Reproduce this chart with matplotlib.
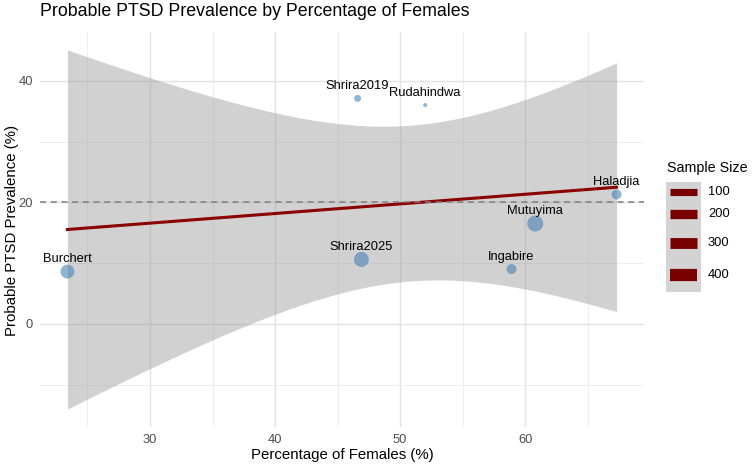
# PTSD prevalence vs share of female participants, with a linear fit and 95% band.

import numpy as np
import matplotlib.pyplot as plt
from matplotlib.patches import Rectangle
from matplotlib.lines import Line2D

plt.rcParams['font.family'] = ['Liberation Sans', 'DejaVu Sans']

# Data
studies = ['Burchert', 'Shrira2019', 'Rudahindwa', 'Shrira2025',
           'Mutuyima', 'Ingabire', 'Haladjia']
pct_female = [23.4, 46.6, 52.0, 46.9, 60.8, 58.9, 67.3]
ptsd_prev = [8.6, 37.1, 36.0, 10.6, 16.5, 9.0, 21.3]
sample_size = [320, 56, 30, 383, 450, 135, 135]
size_breaks = [100, 200, 300, 400]

W, H = 752, 466
n_min, n_max = min(sample_size), max(sample_size)


def diam_px(n):
    # area scale, like ggplot's scale_size
    t = np.clip((np.asarray(n, float) - n_min) / (n_max - n_min), 0, 1)
    return 4 + 12 * np.sqrt(t)


fig = plt.figure(figsize=(W / 100, H / 100), dpi=100)
ax = fig.add_axes([40 / W, 1 - 427 / H, (644 - 40) / W, (427 - 32) / H])

# Linear model and 95% confidence band
x = np.array(pct_female)
y = np.array(ptsd_prev)
n = len(x)
b, a = np.polyfit(x, y, 1)
xs = np.linspace(x.min(), x.max(), 100)
fit = a + b * xs
resid = y - (a + b * x)
s = np.sqrt(np.sum(resid ** 2) / (n - 2))
se = s * np.sqrt(1 / n + (xs - x.mean()) ** 2 / np.sum((x - x.mean()) ** 2))
t_crit = 2.570582  # t(0.975, df=5)
lo, hi = fit - t_crit * se, fit + t_crit * se

ax.fill_between(xs, lo, hi, color='#999999', alpha=0.45, lw=0, zorder=1)
ax.plot(xs, fit, color='#8B0000', lw=2.2, zorder=2)
ax.axhline(20, color='#7F7F7F', ls=(0, (4, 3)), lw=1.1, zorder=3)

sizes = (diam_px(sample_size) * 0.72) ** 2
ax.scatter(x, y, s=sizes, color='#4682B4', alpha=0.6, lw=0, zorder=4)
for name, xi, yi in zip(studies, x, y):
    ax.text(xi, yi + 2, name, ha='center', va='center', fontsize=9.3,
            color='black', zorder=5)

# Limits with 5% expansion
xr = x.max() - x.min()
ax.set_xlim(x.min() - 0.05 * xr, x.max() + 0.05 * xr)
ymin, ymax = min(lo.min(), y.min()), max(hi.max(), y.max())
yr = ymax - ymin
ax.set_ylim(ymin - 0.05 * yr, ymax + 0.05 * yr)

ax.set_xticks([30, 40, 50, 60])
ax.set_xticks([25, 35, 45, 55, 65], minor=True)
ax.set_yticks([0, 20, 40])
ax.set_yticks([-10, 10, 30], minor=True)
ax.grid(which='major', color='#E3E3E3', lw=1.0)
ax.grid(which='minor', color='#EBEBEB', lw=0.6)
ax.set_axisbelow(True)
for sp in ax.spines.values():
    sp.set_visible(False)
ax.tick_params(which='both', length=0, labelsize=9.3, labelcolor='#4D4D4D')
ax.tick_params(axis='x', pad=5)
ax.tick_params(axis='y', pad=5)

# Titles
fig.text(40 / W, 1 - 12 / H, 'Probable PTSD Prevalence by Percentage of Females',
         ha='left', va='center', fontsize=12.8)
fig.text(342 / W, 1 - 455 / H, 'Percentage of Females (%)',
         ha='center', va='center', fontsize=10.8)
fig.text(12 / W, 1 - 230 / H, 'Probable PTSD Prevalence (%)',
         ha='center', va='center', rotation=90, fontsize=10.8)

# Legend drawn by hand
fig.text(667 / W, 1 - 168 / H, 'Sample Size', ha='left', va='center', fontsize=10.3)
fig.patches.append(Rectangle((666 / W, 1 - 292 / H), 35 / W, 110 / H,
                             transform=fig.transFigure, color='#D3D3D3', lw=0))
key_y = [192, 214, 243, 275]
for brk, ky in zip(size_breaks, key_y):
    lw = float(diam_px(brk)) * 0.8 * 0.72
    fig.lines.append(Line2D([670 / W, 697 / W], [1 - ky / H, 1 - ky / H],
                            transform=fig.transFigure, color='#7A0000', lw=lw,
                            solid_capstyle='butt'))
    fig.text(708 / W, 1 - ky / H, str(brk), ha='left', va='center', fontsize=9.3)

fig.savefig('out.png', dpi=100)
